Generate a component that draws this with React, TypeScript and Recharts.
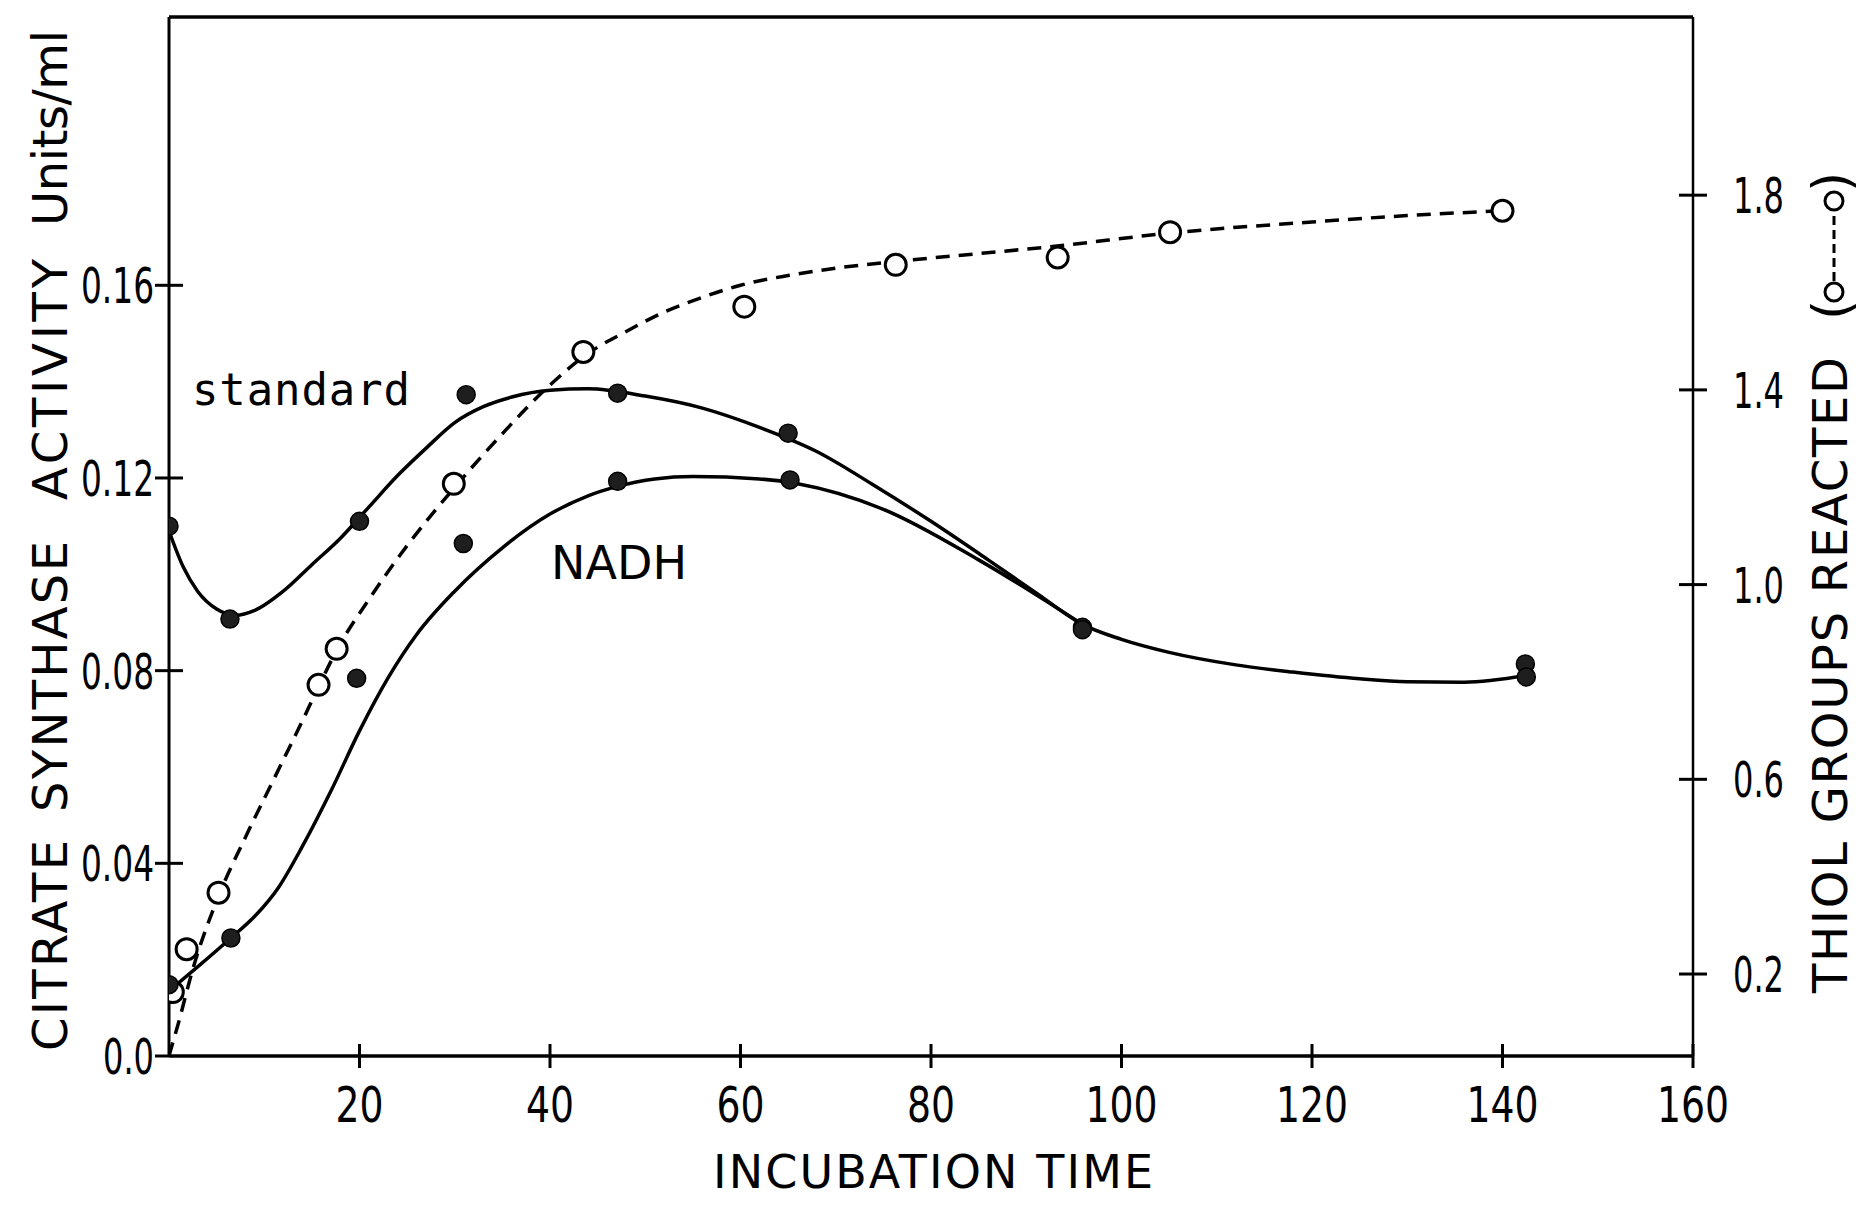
import { ComposedChart, Line, Scatter, XAxis, YAxis, ReferenceLine } from "recharts";

// axis ticks
const timeTicks = [20, 40, 60, 80, 100, 120, 140, 160];
const activityTicks = [0, 0.04, 0.08, 0.12, 0.16];
const activityTickLabels = ["0.0", "0.04", "0.08", "0.12", "0.16"];
const thiolTicks = [0.2, 0.6, 1.0, 1.4, 1.8];
const thiolTickLabels = ["0.2", "0.6", "1.0", "1.4", "1.8"];

// measured points (filled dots = activity, open circles = thiol groups)
const standardTime = [0, 6.4, 20, 31.2, 47.1, 65, 95.9, 142.4];
const standardActivity = [0.11, 0.0907, 0.111, 0.1373, 0.1376, 0.1293, 0.089, 0.0814];
const nadhTime = [0, 6.5, 19.7, 30.9, 47.1, 65.2, 95.9, 142.5];
const nadhActivity = [0.0148, 0.0245, 0.0784, 0.1064, 0.1193, 0.1196, 0.0885, 0.0787];
const thiolTime = [0.4, 1.85, 5.2, 15.7, 17.6, 29.9, 43.5, 60.4, 76.3, 93.3, 105.1, 140];
const thiolReacted = [0.163, 0.251, 0.367, 0.794, 0.868, 1.207, 1.478, 1.571, 1.657, 1.672, 1.724, 1.768];

// hand drawn curves
const standardFitTime = [0, 1.5, 3, 5, 7, 9, 12, 15, 18, 21, 24, 27, 30, 33, 36, 40, 44, 50, 56, 62, 68, 74, 80, 86, 91, 96, 100, 105, 112, 118, 125, 130, 136, 142.5];
const standardFitActivity = [0.109, 0.1015, 0.0965, 0.0928, 0.0915, 0.0925, 0.0965, 0.102, 0.1075, 0.114, 0.1205, 0.1262, 0.1315, 0.1348, 0.1368, 0.1382, 0.1385, 0.137, 0.1345, 0.1305, 0.1255, 0.1185, 0.111, 0.103, 0.0962, 0.0895, 0.0865, 0.0838, 0.0812, 0.0797, 0.0783, 0.0777, 0.0776, 0.079];
const nadhFitTime = [0, 3, 6.5, 9, 11.5, 14, 17, 20, 23, 26, 30, 35, 40, 44, 47, 51, 55, 62, 66, 75, 85, 96];
const nadhFitActivity = [0.0135, 0.0185, 0.0245, 0.029, 0.035, 0.0435, 0.055, 0.0675, 0.0785, 0.0875, 0.0965, 0.1055, 0.1125, 0.1163, 0.1182, 0.1198, 0.1203, 0.1198, 0.1188, 0.1135, 0.103, 0.0895];
const thiolFitTime = [0, 1, 2.5, 5.2, 8, 11, 14, 15.7, 17.6, 21, 25, 30, 35, 40, 44, 48, 52, 56, 60, 65, 70, 77, 85, 93, 105, 120, 130, 140];
const thiolFitReacted = [0.032, 0.1, 0.21, 0.36, 0.48, 0.6, 0.72, 0.79, 0.865, 0.97, 1.08, 1.2, 1.31, 1.41, 1.475, 1.52, 1.56, 1.59, 1.615, 1.635, 1.65, 1.665, 1.68, 1.695, 1.722, 1.745, 1.758, 1.768];

const ACT_MAX = 0.2157;
const THIOL_MIN = 0.0316;
const THIOL_MAX = 2.166;

// left title words: where each starts (bottom) and how long it runs
const leftTitleWords = ["CITRATE", "SYNTHASE", "ACTIVITY", "Units/ml"];
const leftTitleStart = [1051, 812, 500, 226];
const leftTitleLength = [211, 271, 241, 196];

const zip = (xs: number[], ys: number[]) => xs.map((x, i) => ({ x, y: ys[i] }));

const tickFont = "'DejaVu Sans Condensed', 'DejaVu Sans', sans-serif";
const titleFont = "'DejaVu Sans', sans-serif";

// condensed look of the stencil lettering: squeeze each label to a fixed width per glyph
const labelWidth = (s: string, digit: number) =>
  s.split("").reduce((w, c) => w + (c === "." ? 7 : digit), 0);

const FilledDot = (p: any) => (
  <circle cx={p.cx} cy={p.cy} r={9} fill="#1e1e1e" stroke="#000" strokeWidth={1.5} />
);
const OpenDot = (p: any) => (
  <circle cx={p.cx} cy={p.cy} r={10.5} fill="#fff" stroke="#000" strokeWidth={3} />
);

const TimeTick = (p: any) => {
  const label = String(p.payload.value);
  return (
    <g>
      <line x1={p.x} x2={p.x} y1={p.y - 12} y2={p.y + 12} stroke="#000" strokeWidth={3} />
      <text
        x={p.x}
        y={p.y + 66}
        textAnchor="middle"
        fontFamily={tickFont}
        fontSize={50}
        textLength={labelWidth(label, 24)}
        lengthAdjust="spacingAndGlyphs"
        fill="#000"
      >
        {label}
      </text>
    </g>
  );
};

const ActivityTick = (p: any) => {
  const label = activityTickLabels[activityTicks.indexOf(p.payload.value)];
  return (
    <g>
      <line x1={p.x - 14} x2={p.payload.value === 0 ? p.x : p.x + 14} y1={p.y} y2={p.y} stroke="#000" strokeWidth={3} />
      <text
        x={p.x - 15}
        y={p.y}
        dy="0.36em"
        textAnchor="end"
        fontFamily={tickFont}
        fontSize={50}
        textLength={labelWidth(label, 22)}
        lengthAdjust="spacingAndGlyphs"
        fill="#000"
      >
        {label}
      </text>
    </g>
  );
};

const ThiolTick = (p: any) => {
  const label = thiolTickLabels[thiolTicks.indexOf(p.payload.value)];
  return (
    <g>
      <line x1={p.x - 14} x2={p.x + 14} y1={p.y} y2={p.y} stroke="#000" strokeWidth={3} />
      <text
        x={p.x + 40}
        y={p.y}
        dy="0.36em"
        textAnchor="start"
        fontFamily={tickFont}
        fontSize={50}
        textLength={labelWidth(label, 22)}
        lengthAdjust="spacingAndGlyphs"
        fill="#000"
      >
        {label}
      </text>
    </g>
  );
};

export default function App() {
  return (
    <div style={{ position: "absolute", left: 0, top: 0, width: 1865, height: 1209, background: "#fff" }}>
      <ComposedChart width={1865} height={1209} margin={{ top: 17, right: 72, bottom: 93, left: 69 }}>
        <XAxis
          type="number"
          dataKey="x"
          domain={[0, 160]}
          ticks={timeTicks}
          interval={0}
          allowDataOverflow
          height={60}
          tickSize={0}
          tickMargin={0}
          tickLine={false}
          axisLine={{ stroke: "#000", strokeWidth: 3.5 }}
          tick={(p: any) => <TimeTick {...p} />}
        />
        <YAxis
          yAxisId="act"
          orientation="left"
          type="number"
          domain={[0, ACT_MAX]}
          ticks={activityTicks}
          interval={0}
          allowDataOverflow
          width={100}
          tickSize={0}
          tickMargin={0}
          tickLine={false}
          axisLine={{ stroke: "#000", strokeWidth: 3 }}
          tick={(p: any) => <ActivityTick {...p} />}
        />
        <YAxis
          yAxisId="thiol"
          orientation="right"
          type="number"
          domain={[THIOL_MIN, THIOL_MAX]}
          ticks={thiolTicks}
          interval={0}
          allowDataOverflow
          width={100}
          tickSize={0}
          tickMargin={0}
          tickLine={false}
          axisLine={{ stroke: "#000", strokeWidth: 2.5 }}
          tick={(p: any) => <ThiolTick {...p} />}
        />
        <ReferenceLine yAxisId="act" y={ACT_MAX} stroke="#000" strokeWidth={3.5} />
        <Line
          yAxisId="thiol"
          data={zip(thiolFitTime, thiolFitReacted)}
          dataKey="y"
          type="monotone"
          stroke="#000"
          strokeWidth={3.5}
          strokeDasharray="14 9"
          dot={false}
          activeDot={false}
          isAnimationActive={false}
        />
        <Line
          yAxisId="act"
          data={zip(standardFitTime, standardFitActivity)}
          dataKey="y"
          type="monotone"
          stroke="#000"
          strokeWidth={3.5}
          dot={false}
          activeDot={false}
          isAnimationActive={false}
        />
        <Line
          yAxisId="act"
          data={zip(nadhFitTime, nadhFitActivity)}
          dataKey="y"
          type="monotone"
          stroke="#000"
          strokeWidth={3.5}
          dot={false}
          activeDot={false}
          isAnimationActive={false}
        />
        <Scatter yAxisId="thiol" data={zip(thiolTime, thiolReacted)} dataKey="y" shape={OpenDot} isAnimationActive={false} />
        <Scatter yAxisId="act" data={zip(standardTime, standardActivity)} dataKey="y" shape={FilledDot} isAnimationActive={false} />
        <Scatter yAxisId="act" data={zip(nadhTime, nadhActivity)} dataKey="y" shape={FilledDot} isAnimationActive={false} />
      </ComposedChart>
      <svg width={1865} height={1209} style={{ position: "absolute", left: 0, top: 0, pointerEvents: "none" }}>
        {leftTitleWords.map((w, i) => (
          <text
            key={w}
            transform={`translate(67,${leftTitleStart[i]}) rotate(-90)`}
            fontFamily={titleFont}
            fontSize={48}
            textLength={leftTitleLength[i]}
            lengthAdjust="spacing"
            fill="#000"
          >
            {w}
          </text>
        ))}
        <text
          transform="translate(1847,993) rotate(-90)"
          fontFamily={titleFont}
          fontSize={48}
          textLength={636}
          lengthAdjust="spacing"
          fill="#000"
        >
          THIOL GROUPS REACTED
        </text>
        <text transform="translate(1849,320) rotate(-90)" fontFamily={titleFont} fontSize={52} fill="#000">(</text>
        <text transform="translate(1849,192) rotate(-90)" fontFamily={titleFont} fontSize={52} fill="#000">)</text>
        <line x1={1834} x2={1834} y1={281} y2={211} stroke="#000" strokeWidth={3} strokeDasharray="9 5" />
        <circle cx={1834} cy={292} r={9} fill="#fff" stroke="#000" strokeWidth={3} />
        <circle cx={1834} cy={201} r={9} fill="#fff" stroke="#000" strokeWidth={3} />
        <text x={713} y={1188} fontFamily={titleFont} fontSize={46} textLength={440} lengthAdjust="spacing" fill="#000">
          INCUBATION TIME
        </text>
        <text x={551} y={579} fontFamily={titleFont} fontSize={46} textLength={136} lengthAdjust="spacing" fill="#000">
          NADH
        </text>
        <text x={192} y={405} fontFamily="'DejaVu Sans Mono', monospace" fontSize={44} textLength={218} lengthAdjust="spacing" fill="#000">
          standard
        </text>
      </svg>
    </div>
  );
}
